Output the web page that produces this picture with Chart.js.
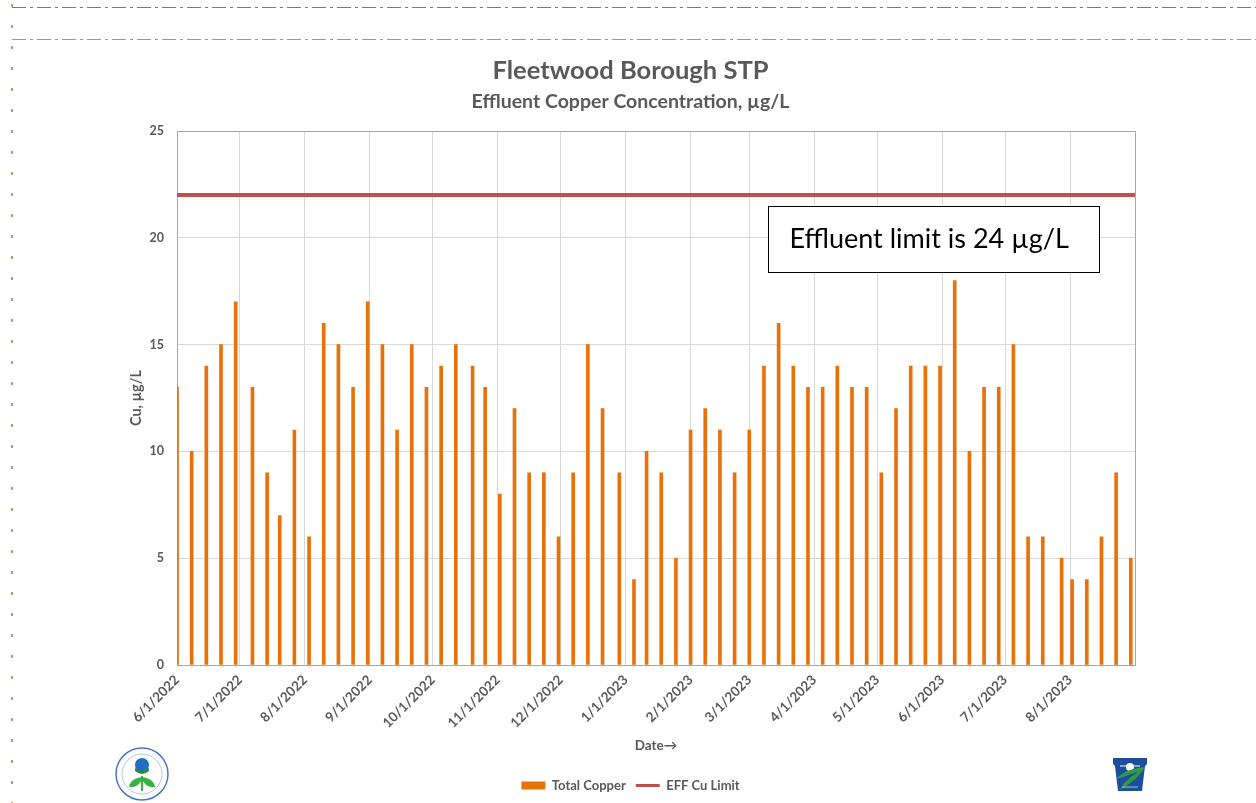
<!DOCTYPE html>
<html>
<head>
<meta charset="utf-8">
<script src="https://cdn.jsdelivr.net/npm/chart.js@4.4.0/dist/chart.umd.min.js"></script>
<style>
    html, body { margin: 0; padding: 0; background: #fff; }
    #wrap { position: relative; width: 1256px; height: 803px; overflow: hidden; }
    #chart { position: absolute; left: 0; top: 0; }
    svg.deco { position: absolute; left: 0; top: 0; pointer-events: none; }
</style>
</head>
<body>
<div id="wrap">
<canvas id="chart" width="1256" height="803"></canvas>
<svg class="deco" width="1256" height="803">
    <line x1="12" y1="7.5" x2="1256" y2="7.5" stroke="#6f8a35" stroke-width="1" stroke-dasharray="14 4 3 4"/>
    <line x1="12" y1="39.5" x2="1256" y2="39.5" stroke="#8fa85a" stroke-width="1" stroke-dasharray="14 4 3 4"/>
    <line x1="12" y1="4" x2="12" y2="803" stroke="#8a8a3c" stroke-width="1.5" stroke-dasharray="3 18"/>
    <g transform="translate(142,774)">
        <circle r="26" fill="#fff" stroke="#4a78c0" stroke-width="1.5"/>
        <circle r="20" fill="none" stroke="#b5c7e6" stroke-width="1"/>
        <circle cx="0" cy="-9" r="7" fill="#1f6fc2"/>
        <path d="M-7,-6 Q0,0 7,-6 L7,-3 Q0,3 -7,-3Z" fill="#2e8a3a"/>
        <path d="M0,3 C-6,4 -12,6 -13,13 C-6,14 -2,10 0,5Z" fill="#3cb043"/>
        <path d="M0,3 C6,4 12,6 13,13 C6,14 2,10 0,5Z" fill="#3cb043"/>
        <line x1="0" y1="2" x2="0" y2="17" stroke="#3cb043" stroke-width="2"/>
    </g>
    <g>
        <path d="M1113,758 L1147,758 L1147,764 L1145,766 L1142,791 L1118,791 L1115,766 L1113,764 Z" fill="#1d4e9b"/>
        <path d="M1120,766 L1140,766" stroke="#fff" stroke-width="1"/>
        <circle cx="1130" cy="767" r="4" fill="#fff"/>
        <path d="M1116,779 C1124,770 1136,768 1145,767 C1140,776 1130,784 1120,790 C1124,782 1130,777 1138,772 C1130,774 1122,778 1116,779Z" fill="#2f9a44"/>
        <path d="M1122,787 L1138,787" stroke="#9cc" stroke-width="1"/>
    </g>
</svg>
</div>
<script>
// sampling dates and copper results (ug/L)
const sampleDates = [
    '2022-06-01', '2022-06-08', '2022-06-15', '2022-06-22', '2022-06-29',
    '2022-07-07', '2022-07-14', '2022-07-20', '2022-07-27', '2022-08-03',
    '2022-08-10', '2022-08-17', '2022-08-24', '2022-08-31', '2022-09-07',
    '2022-09-14', '2022-09-21', '2022-09-28', '2022-10-05', '2022-10-12',
    '2022-10-20', '2022-10-26', '2022-11-02', '2022-11-09', '2022-11-16',
    '2022-11-23', '2022-11-30', '2022-12-07', '2022-12-14', '2022-12-21',
    '2022-12-29', '2023-01-05', '2023-01-11', '2023-01-18', '2023-01-25',
    '2023-02-01', '2023-02-08', '2023-02-15', '2023-02-22', '2023-03-01',
    '2023-03-08', '2023-03-15', '2023-03-22', '2023-03-29', '2023-04-05',
    '2023-04-12', '2023-04-19', '2023-04-26', '2023-05-03', '2023-05-10',
    '2023-05-17', '2023-05-24', '2023-05-31', '2023-06-07', '2023-06-14',
    '2023-06-21', '2023-06-28', '2023-07-05', '2023-07-12', '2023-07-19',
    '2023-07-28', '2023-08-02', '2023-08-09', '2023-08-16', '2023-08-23',
    '2023-08-30',
];
const copperValues = [
    13, 10, 14, 15, 17,
    13, 9, 7, 11, 6,
    16, 15, 13, 17, 15,
    11, 15, 13, 14, 15,
    14, 13, 8, 12, 9,
    9, 6, 9, 15, 12,
    9, 4, 10, 9, 5,
    11, 12, 11, 9, 11,
    14, 16, 14, 13, 13,
    14, 13, 13, 9, 12,
    14, 14, 14, 18, 10,
    13, 13, 15, 6, 6,
    5, 4, 4, 6, 9,
    5,
];
const limitDates = ['2022-06-01', '2023-09-01'];
const limitValues = [22, 22];
const monthTicks = [
    '2022-06-01', '2022-07-01', '2022-08-01', '2022-09-01', '2022-10-01',
    '2022-11-01', '2022-12-01', '2023-01-01', '2023-02-01', '2023-03-01',
    '2023-04-01', '2023-05-01', '2023-06-01', '2023-07-01', '2023-08-01',
];
const axisEnd = '2023-09-01';

const gray = '#595959';
const copperColor = '#e8710a';
const limitColor = '#c0504d';
const fontFamily = 'Lato, "Liberation Sans", sans-serif';

function fmtDate(ms) {
    const d = new Date(ms);
    return (d.getUTCMonth() + 1) + '/' + d.getUTCDate() + '/' + d.getUTCFullYear();
}

const plotBorder = {
    id: 'plotBorder',
    beforeDatasetsDraw(chart) {
        const { ctx, chartArea: a } = chart;
        ctx.save();
        ctx.strokeStyle = '#a6a6a6';
        ctx.lineWidth = 1;
        ctx.strokeRect(a.left + 0.5, a.top + 0.5, a.width, a.height);
        ctx.restore();
    },
};

const noteBox = {
    id: 'noteBox',
    afterDatasetsDraw(chart, args, opts) {
        const { ctx, scales: { x, y } } = chart;
        const left = Math.round(x.getPixelForValue(Date.parse(opts.from))) + 0.5;
        const right = Math.round(x.getPixelForValue(Date.parse(opts.to))) + 0.5;
        const top = Math.round(y.getPixelForValue(opts.top)) + 0.5;
        const bottom = Math.round(y.getPixelForValue(opts.bottom)) + 0.5;
        ctx.save();
        ctx.fillStyle = '#fff';
        ctx.fillRect(left, top, right - left, bottom - top);
        ctx.strokeStyle = '#000';
        ctx.lineWidth = 1;
        ctx.strokeRect(left, top, right - left, bottom - top);
        ctx.fillStyle = '#000';
        ctx.font = opts.fontSize + 'px ' + fontFamily;
        ctx.textBaseline = 'middle';
        ctx.fillText(opts.text, left + 21, (top + bottom) / 2);
        ctx.restore();
    },
};

const chartCanvas = document.getElementById('chart');
new Chart(chartCanvas, {
    type: 'bar',
    data: {
        datasets: [{
            type: 'bar',
            label: 'Total Copper',
            data: sampleDates.map((d, i) => ({ x: Date.parse(d), y: copperValues[i] })),
            backgroundColor: copperColor,
            barThickness: 3,
        }, {
            type: 'line',
            label: 'EFF Cu Limit',
            data: limitDates.map((d, i) => ({ x: Date.parse(d), y: limitValues[i] })),
            borderColor: limitColor,
            borderWidth: 4,
            pointRadius: 0,
            fill: false,
        }],
    },
    options: setupChartOptions(),
    plugins: [plotBorder, noteBox],
});

function setupChartOptions() {
    return {
        responsive: false,
        animation: false,
        layout: {
            padding: { left: 126, right: 121, top: 0, bottom: 1 },
        },
        plugins: {
            title: {
                display: true,
                text: 'Fleetwood Borough STP',
                color: gray,
                font: { family: fontFamily, size: 25.5, weight: 'bold' },
                padding: { top: 55, bottom: 4 },
            },
            subtitle: {
                display: true,
                text: 'Effluent Copper Concentration, µg/L',
                color: gray,
                font: { family: fontFamily, size: 19.5, weight: 'bold' },
                padding: { top: 0, bottom: 18 },
            },
            legend: {
                position: 'bottom',
                labels: {
                    color: gray,
                    font: { family: fontFamily, size: 13, weight: 'bold' },
                    usePointStyle: true,
                    pointStyleWidth: 24,
                    boxHeight: 8,
                    padding: 10,
                    generateLabels(chart) {
                        const items = Chart.defaults.plugins.legend.labels.generateLabels(chart);
                        items.forEach(item => {
                            if (item.datasetIndex === 0) {
                                item.pointStyle = 'rect';
                                item.fillStyle = copperColor;
                                item.strokeStyle = copperColor;
                                item.lineWidth = 0;
                            } else {
                                item.pointStyle = 'line';
                                item.strokeStyle = limitColor;
                                item.lineWidth = 3;
                            }
                        });
                        return items.sort((a, b) => a.datasetIndex - b.datasetIndex);
                    },
                },
            },
            tooltip: { enabled: false },
            noteBox: {
                text: 'Effluent limit is 24 µg/L',
                fontSize: 27,
                from: '2023-03-10',
                to: '2023-08-15',
                top: 21.5,
                bottom: 18.4,
            },
        },
        scales: {
            x: {
                type: 'linear',
                offset: false,
                min: Date.parse(monthTicks[0]),
                max: Date.parse(axisEnd),
                afterBuildTicks(scale) {
                    scale.ticks = monthTicks.map(d => ({ value: Date.parse(d) }));
                },
                afterFit(scale) {
                    scale.height = 104;
                },
                grid: { color: '#d9d9d9', drawTicks: false, offset: false },
                border: { color: '#8c8c8c' },
                ticks: {
                    autoSkip: false,
                    maxRotation: 45,
                    minRotation: 45,
                    padding: 7,
                    color: gray,
                    font: { family: fontFamily, size: 13.5, weight: 'bold' },
                    callback: (value) => fmtDate(value),
                },
                title: {
                    display: true,
                    text: 'Date→',
                    color: gray,
                    font: { family: fontFamily, size: 13.5, weight: 'bold' },
                    padding: { top: 4, bottom: 15 },
                },
            },
            y: {
                min: 0,
                max: 25,
                afterFit(scale) {
                    scale.width = 51;
                },
                grid: { color: '#d9d9d9', drawTicks: false },
                border: { color: '#a6a6a6' },
                ticks: {
                    stepSize: 5,
                    padding: 13,
                    color: gray,
                    font: { family: fontFamily, size: 12.5, weight: 'bold' },
                },
                title: {
                    display: true,
                    text: 'Cu, µg/L',
                    color: gray,
                    font: { family: fontFamily, size: 14.5, weight: 'bold' },
                    padding: { top: 2, bottom: 4 },
                },
            },
        },
    };
};
</script>
</body>
</html>
